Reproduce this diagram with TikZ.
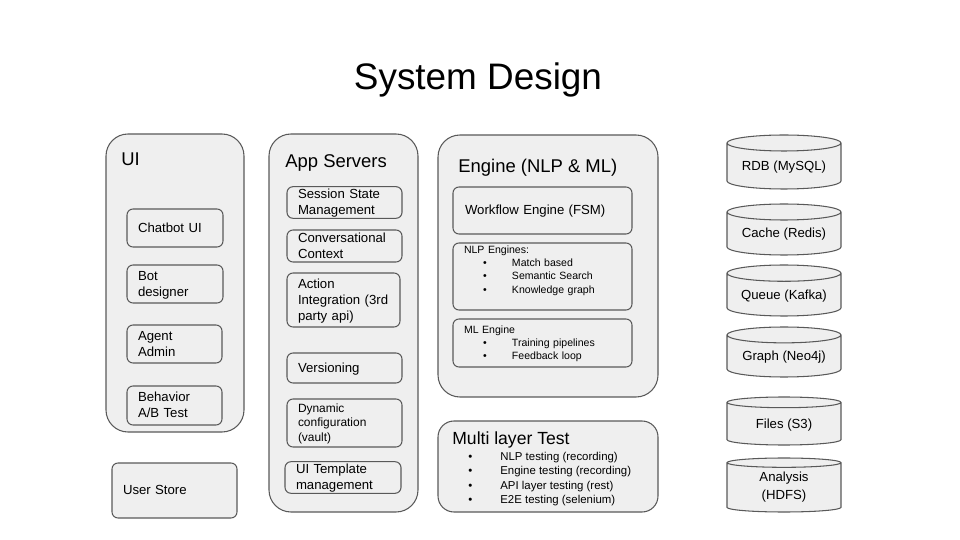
\documentclass[tikz,border=0pt]{standalone}
\usepackage{fontspec}
\setmainfont{Liberation Sans}
\usepackage{tikz}
\usetikzlibrary{shapes}

\newdimen\pxu
\pxu=0.02cm
\definecolor{boxfill}{HTML}{EFEFEF}
\definecolor{boxline}{HTML}{595959}
\newcommand{\bitem}[1][19]{\hspace*{#1\pxu}\makebox[\dimexpr 48\pxu-#1\pxu\relax][l]{\textbullet}}
\newcommand{\vstrut}{\rule[-0.28em]{0pt}{1.2em}}

\begin{document}
\begin{tikzpicture}[x=0.02cm, y=-0.02cm]
	\tikzstyle{boxtext} = [execute at begin node=\vstrut, execute at end node=\vstrut]
	\tikzstyle{outerbox} = [draw=boxline, fill=boxfill, line width=0.6pt, rounded corners=22\pxu, inner sep=0pt]
	\tikzstyle{innerbox} = [boxtext, draw=boxline, fill=boxfill, line width=0.6pt, rounded corners=6\pxu, align=left, inner xsep=11\pxu, inner ysep=0pt, font=\fontsize{7.5}{9}\selectfont]
	\tikzstyle{grouptitle} = [boxtext, anchor=west, inner sep=0pt, font=\fontsize{10.5}{12}\selectfont]
	\tikzstyle{datastore} = [boxtext, draw=boxline, fill=boxfill, line width=0.6pt, cylinder, shape border rotate=90, aspect=0.19, anchor=shape center, align=center, inner sep=0pt, minimum width=114\pxu, font=\fontsize{7.5}{9}\selectfont]

	\useasboundingbox (0,0) rectangle (960,540);

	\node[boxtext, inner sep=0pt, font=\fontsize{21}{25}\selectfont] (title) at (478,78) {System Design};

	% UI
	\node[outerbox, minimum width=138\pxu, minimum height=298\pxu] (ui) at (175,283) {};
	\node[grouptitle] (uititle) at (121,160) {UI};
	\node[innerbox, text width=74\pxu, minimum height=38\pxu] (chatbot) at (175,228) {Chatbot UI};
	\node[innerbox, text width=74\pxu, minimum height=38\pxu] (botdesigner) at (175,284) {Bot\\designer};
	\node[innerbox, text width=73\pxu, minimum height=38\pxu] (agentadmin) at (174.5,344) {Agent\\Admin};
	\node[innerbox, text width=73\pxu, minimum height=39\pxu] (abtest) at (174.5,405.5) {Behavior\\A/B Test};
	\node[innerbox, text width=103\pxu, minimum height=55\pxu] (userstore) at (174.5,490.5) {User Store};

	% App servers
	\node[outerbox, minimum width=149\pxu, minimum height=378\pxu] (app) at (343.5,323) {};
	\node[grouptitle] (apptitle) at (285,162) {App Servers};
	\node[innerbox, text width=93\pxu, minimum height=31\pxu] (session) at (344.5,202.5) {Session State\\Management};
	\node[innerbox, text width=93\pxu, minimum height=32\pxu] (context) at (344.5,246) {Conversational\\Context};
	\node[innerbox, text width=91\pxu, minimum height=54\pxu] (action) at (343.5,300) {Action\\Integration (3rd\\party api)};
	\node[innerbox, text width=93\pxu, minimum height=30\pxu] (versioning) at (344.5,368) {Versioning};
	\node[innerbox, text width=93\pxu, minimum height=48\pxu, font=\fontsize{6.8}{8.2}\selectfont] (dynconf) at (344.5,423) {Dynamic\\configuration\\(vault)};
	\node[innerbox, text width=94\pxu, minimum height=31\pxu] (uitemplate) at (343,477.5) {UI Template\\management};

	% Engine
	\node[outerbox, minimum width=220\pxu, minimum height=262\pxu] (engine) at (548,266) {};
	\node[grouptitle] (enginetitle) at (458,167) {Engine (NLP \& ML)};
	\node[innerbox, text width=155\pxu, inner xsep=12\pxu, minimum height=47\pxu] (workflow) at (542.5,210.5) {Workflow Engine (FSM)};
	\node[innerbox, text width=157\pxu, minimum height=67\pxu, font=\fontsize{6}{7.6}\selectfont] (nlp) at (542.5,276.5)
		{NLP Engines:\\\bitem Match based\\\bitem Semantic Search\\\bitem Knowledge graph\\};
	\node[innerbox, text width=157\pxu, minimum height=48\pxu, font=\fontsize{6}{7.6}\selectfont] (ml) at (542.5,343)
		{ML Engine\\\bitem Training pipelines\\\bitem Feedback loop};

	% Multi layer test
	\node[outerbox, rounded corners=16\pxu, minimum width=220\pxu, minimum height=91\pxu] (mltest) at (548,466.5) {};
	\node[grouptitle, font=\fontsize{10}{12}\selectfont] (mltitle) at (452,439) {Multi layer Test};
	\node[boxtext, anchor=west, inner sep=0pt, align=left, font=\fontsize{6.5}{8.1}\selectfont] (mllist) at (452,479.5)
		{\bitem[16]NLP testing (recording)\\\bitem[16]Engine testing (recording)\\\bitem[16]API layer testing (rest)\\\bitem[16]E2E testing (selenium)};

	% Data stores
	\node[datastore, minimum height=54\pxu] (rdb) at (784,162) {RDB (MySQL)};
	\node[datastore, minimum height=51\pxu] (cache) at (784,229.5) {Cache (Redis)};
	\node[datastore, minimum height=51\pxu] (queue) at (784,290.5) {Queue (Kafka)};
	\node[datastore, minimum height=50\pxu] (graph) at (784,352) {Graph (Neo4j)};
	\node[datastore, minimum height=48\pxu] (files) at (784,421) {Files (S3)};
	\node[datastore, minimum height=54\pxu, font=\fontsize{7.5}{10.2}\selectfont] (analysis) at (784,485) {Analysis\\(HDFS)};
\end{tikzpicture}
\end{document}
